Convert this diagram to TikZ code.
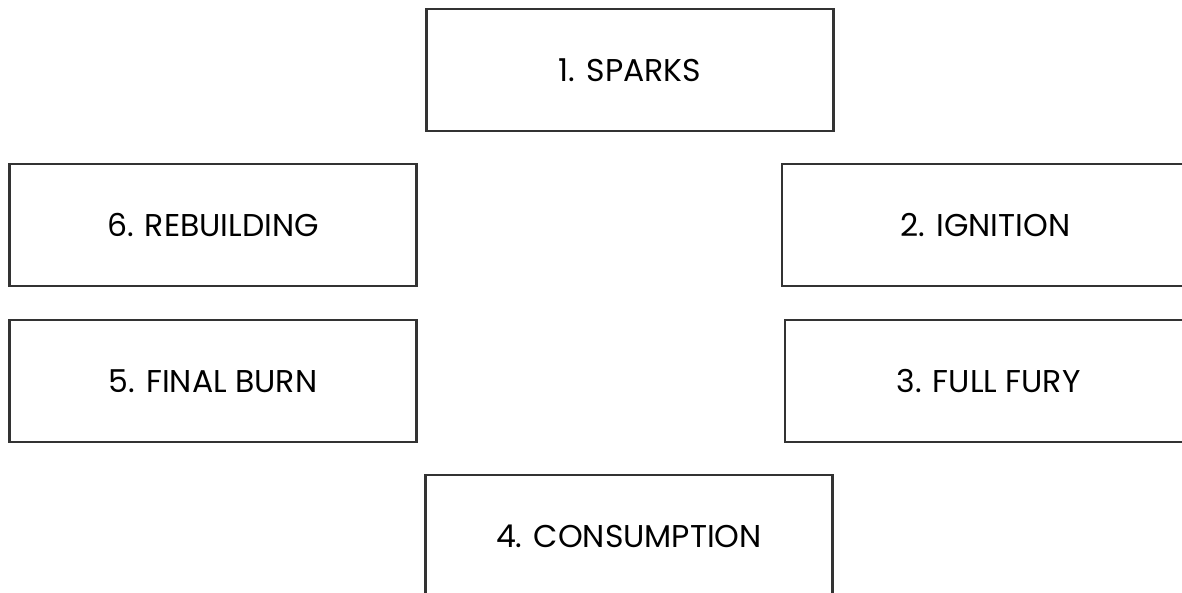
\documentclass[tikz,border=0pt]{standalone}
\usepackage{fontspec}
\setmainfont{Poppins}
\usepackage{tikz}
\usetikzlibrary{positioning}
\usepackage{xcolor}
\definecolor{boxline}{HTML}{333333}

\begin{document}
\begin{tikzpicture}[
    x=1pt, y=-1pt,
    stage/.style={draw=boxline, line width=2.2pt, rectangle, minimum width=407pt, minimum height=122pt, fill=white, font=\fontsize{31.5}{34}\selectfont, text=black}
]
    \clip (0,0) rectangle (1182,592);
    \fill[white] (0,0) rectangle (1182,592);

    % Top
    \node[stage] (sparks) at (630, 70) {1. SPARKS};

    % Right side
    \node[stage] (ignition) at (985.5, 225) {2. IGNITION};
    \node[stage] (fury) at (988.5, 381) {3. FULL FURY};

    % Bottom
    \node[stage] (consumption) at (629, 536) {4. CONSUMPTION};

    % Left side
    \node[stage] (finalburn) at (213, 381) {5. FINAL BURN};
    \node[stage] (rebuilding) at (213, 225) {6. REBUILDING};

\end{tikzpicture}
\end{document}
